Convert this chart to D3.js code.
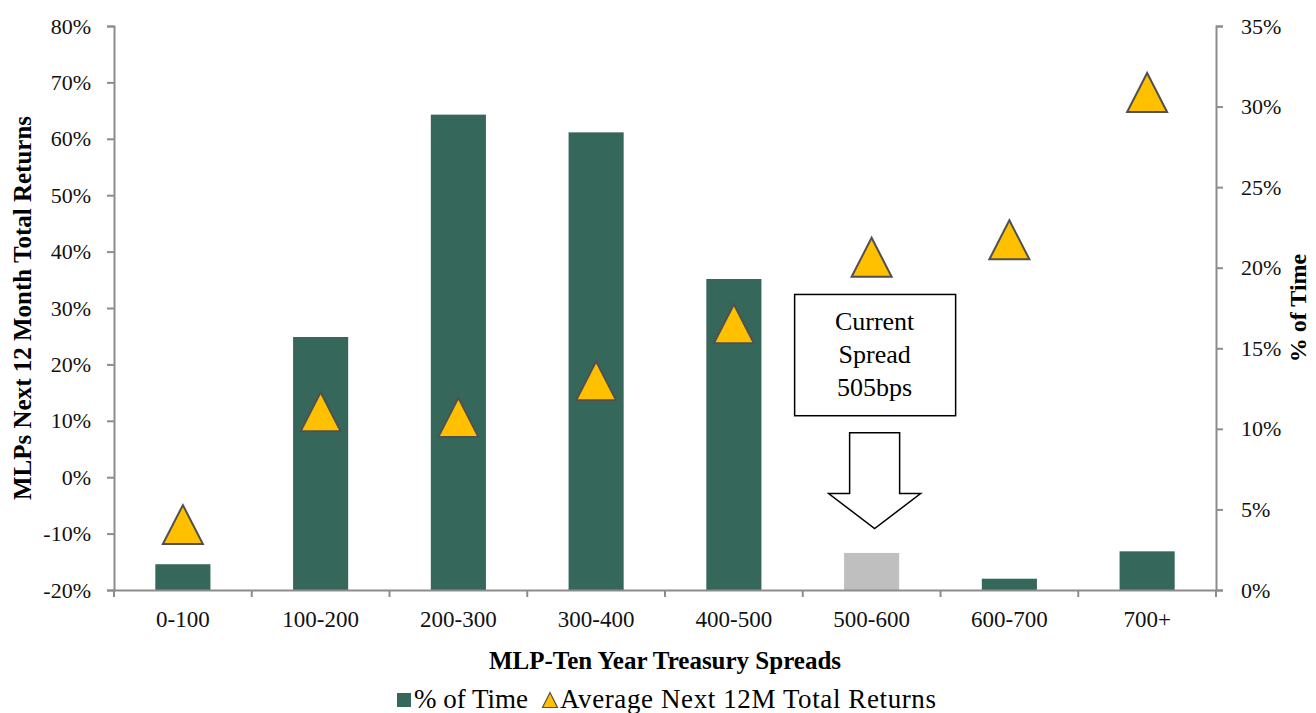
<!DOCTYPE html>
<html>
<head>
<meta charset="utf-8">
<script src="https://cdn.jsdelivr.net/npm/d3@7"></script>
<style>
  body { margin: 0; background: #fff; }
  svg text { font-family: "Liberation Serif", "Times New Roman", "DejaVu Serif", serif; }
</style>
</head>
<body>
<svg id="chart" width="1316" height="713"></svg>
<script>
const categories = ['0-100', '100-200', '200-300', '300-400', '400-500', '500-600', '600-700', '700+']
const pctTime = [1.6, 15.7, 29.5, 28.4, 19.3, 2.3, 0.7, 2.4]
const avgReturns = [-8.4, 11.6, 10.6, 17.1, 27.2, 39.0, 42.1, 68.2]
const leftTicks = [-20, -10, 0, 10, 20, 30, 40, 50, 60, 70, 80]
const rightTicks = [0, 5, 10, 15, 20, 25, 30, 35]
const currentBucket = '500-600'

const serif = '"Liberation Serif", "Times New Roman", "DejaVu Serif", serif'
const svg = d3.select('#chart').attr('font-family', serif)
const plotLeft = 114, plotRight = 1216, plotTop = 26, plotBottom = 590
const axisColor = '#8c8c8c'

const x = d3.scaleBand().domain(categories).range([plotLeft, plotRight]).paddingInner(0.6).paddingOuter(0.3)
const xb = d3.scaleBand().domain(categories).range([plotLeft, plotRight])
const yL = d3.scaleLinear().domain([-20, 80]).range([plotBottom, plotTop])
const yR = d3.scaleLinear().domain([0, 35]).range([plotBottom, plotTop])

// bars
svg.selectAll('rect.bar')
  .data(categories)
  .enter()
  .append('rect')
  .attr('class', 'bar')
  .attr('x', d => x(d))
  .attr('width', x.bandwidth())
  .attr('y', (d, i) => yR(pctTime[i]))
  .attr('height', (d, i) => yR(0) - yR(pctTime[i]))
  .attr('fill', d => d === currentBucket ? '#bfbfbf' : '#35685a')

// axes
const styleAxis = (g, size) => {
  g.attr('font-family', serif)
  g.select('.domain').attr('stroke', axisColor).attr('stroke-width', 2)
  g.selectAll('.tick line').attr('stroke', axisColor).attr('stroke-width', 2)
  g.selectAll('.tick text').attr('fill', '#111').style('font-size', size + 'px')
}

svg.append('g')
  .attr('transform', `translate(${plotLeft},0)`)
  .call(d3.axisLeft(yL).tickValues(leftTicks).tickSize(7).tickSizeOuter(7).tickPadding(16).tickFormat(d => d + '%'))
  .call(styleAxis, 22)

svg.append('g')
  .attr('transform', `translate(${plotRight},0)`)
  .call(d3.axisRight(yR).tickValues(rightTicks).tickSize(7).tickSizeOuter(7).tickPadding(18).tickFormat(d => d + '%'))
  .call(styleAxis, 22)

const xAxis = svg.append('g')
  .attr('transform', `translate(0,${plotBottom})`)
  .call(d3.axisBottom(xb).tickSize(0).tickPadding(21))
  .call(styleAxis, 23)

// category boundary ticks
xAxis.selectAll('line.sep')
  .data(categories.concat(['end']))
  .enter()
  .append('line')
  .attr('class', 'sep')
  .attr('x1', (d, i) => i < categories.length ? xb(d) : plotRight)
  .attr('x2', (d, i) => i < categories.length ? xb(d) : plotRight)
  .attr('y1', 0)
  .attr('y2', 7)
  .attr('stroke', axisColor)
  .attr('stroke-width', 2)

// triangles
const tri = (cx, cy, w, h) => `M${cx - w / 2},${cy + h / 2}L${cx},${cy - h / 2}L${cx + w / 2},${cy + h / 2}Z`

svg.selectAll('path.tri')
  .data(categories)
  .enter()
  .append('path')
  .attr('class', 'tri')
  .attr('d', (d, i) => tri(xb(d) + xb.bandwidth() / 2, yL(avgReturns[i]), 40, 39))
  .attr('fill', '#ffc000')
  .attr('stroke', '#505050')
  .attr('stroke-width', 2)

// annotation
const ax = xb(currentBucket) + xb.bandwidth() / 2 + 3
const boxTop = yL(32.4), boxBot = yL(10.9)
svg.append('rect')
  .attr('x', ax - 80).attr('y', boxTop)
  .attr('width', 161).attr('height', boxBot - boxTop)
  .attr('fill', '#fff').attr('stroke', '#000').attr('stroke-width', 1.5)

const lines = ['Current', 'Spread', '505bps']
svg.selectAll('text.note')
  .data(lines)
  .enter()
  .append('text')
  .attr('class', 'note')
  .attr('x', ax)
  .attr('y', (d, i) => boxTop + 36 + i * 33)
  .attr('text-anchor', 'middle')
  .style('font-size', '26px')
  .text(d => d)

const aTop = yL(7.9), aMid = yL(-2.9), aTip = yL(-9.1)
svg.append('path')
  .attr('d', `M${ax - 25},${aTop}L${ax + 25},${aTop}L${ax + 25},${aMid}L${ax + 46},${aMid}L${ax},${aTip}L${ax - 46},${aMid}L${ax - 25},${aMid}Z`)
  .attr('fill', '#fff').attr('stroke', '#000').attr('stroke-width', 1.5)

// axis titles
svg.append('text')
  .attr('transform', `translate(31,${(plotTop + plotBottom) / 2}) rotate(-90)`)
  .attr('text-anchor', 'middle')
  .style('font-size', '25px').style('font-weight', 'bold')
  .text('MLPs Next 12 Month Total Returns')

svg.append('text')
  .attr('transform', `translate(1306,${(plotTop + plotBottom) / 2}) rotate(-90)`)
  .attr('text-anchor', 'middle')
  .style('font-size', '24px').style('font-weight', 'bold')
  .text('% of Time')

svg.append('text')
  .attr('x', (plotLeft + plotRight) / 2).attr('y', 669)
  .attr('text-anchor', 'middle')
  .style('font-size', '25px').style('font-weight', 'bold')
  .text('MLP-Ten Year Treasury Spreads')

// legend
const lg = svg.append('g')
lg.append('rect').attr('x', 397).attr('y', 693).attr('width', 14).attr('height', 14).attr('fill', '#35685a')
lg.append('text').attr('x', 414).attr('y', 708).style('font-size', '27px').text('% of Time')
lg.append('path').attr('d', tri(550, 700, 15, 15)).attr('fill', '#ffc000').attr('stroke', '#505050').attr('stroke-width', 1.2)
lg.append('text').attr('x', 560).attr('y', 708).style('font-size', '27px').attr('letter-spacing', '0.6px').text('Average Next 12M Total Returns')
</script>
</body>
</html>
